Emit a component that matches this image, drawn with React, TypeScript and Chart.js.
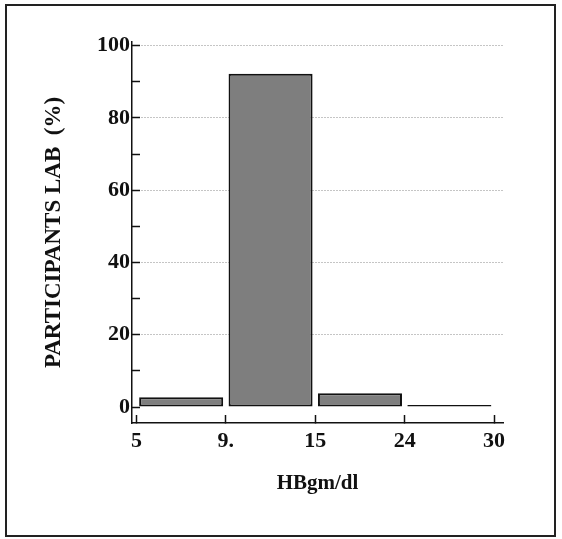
import React, { useEffect, useRef } from 'react';
import { Chart, registerables } from 'chart.js';

Chart.register(...registerables);

// HB bins (gm/dl) and share of participants (%)
const binLabels = ['5-9', '9-15', '15-24', '24-30'];
const participantsPct = [2.7, 92.2, 3.8, 0.6];
const edgeTickLabels = ['5', '9.', '15', '24', '30'];
const yTickValues = [0, 10, 20, 30, 40, 50, 60, 70, 80, 90, 100];
const yLabelStep = 20;

const FONT = '"Liberation Serif", "Times New Roman", serif';
const INK = '#111';

export default function App() {
  const ref = useRef<HTMLCanvasElement>(null);

  useEffect(() => {
    const canvas = ref.current;
    if (!canvas) return;
    const chart = new Chart(canvas, {
      type: 'bar',
      data: {
        labels: binLabels,
        datasets: [
          {
            label: 'Participants',
            data: participantsPct.map((v, i) => ({ x: i + 0.5, y: v })),
            backgroundColor: '#7e7e7e',
            borderColor: INK,
            borderWidth: 2,
            borderSkipped: false,
            barPercentage: 0.94,
            categoryPercentage: 1,
          },
        ],
      },
      options: {
        responsive: false,
        animation: false,
        layout: { padding: { left: 30, right: 59, top: 42, bottom: 30 } },
        plugins: { legend: { display: false }, tooltip: { enabled: false } },
        scales: {
          x: {
            type: 'linear',
            offset: false,
            min: -0.05,
            max: 4.1,
            afterBuildTicks: (s: any) => {
              s.ticks = edgeTickLabels.map((_, i) => ({ value: i }));
            },
            afterFit: (s: any) => {
              s.height = 539 - 423 - 30;
            },
            ticks: {
              autoSkip: false,
              maxRotation: 0,
              padding: 13,
              color: INK,
              font: { family: FONT, size: 22, weight: 'bold' },
              callback: (_v: any, i: number) => edgeTickLabels[i] ?? '',
            },
            grid: {
              offset: false,
              drawOnChartArea: false,
              drawTicks: true,
              tickLength: -8,
              tickColor: INK,
              tickWidth: 1.5,
              tickBorderDash: [],
            },
            border: { display: true, color: INK, width: 1.5 },
            title: {
              display: true,
              text: 'HBgm/dl',
              color: INK,
              font: { family: FONT, size: 21, weight: 'bold' },
              padding: { top: 0, bottom: 13 },
            },
          },
          y: {
            type: 'linear',
            min: -4.4,
            max: 101,
            afterBuildTicks: (s: any) => {
              s.ticks = yTickValues.map((v) => ({ value: v }));
            },
            afterFit: (s: any) => {
              s.width = 132 - 30;
            },
            ticks: {
              autoSkip: false,
              padding: 10,
              color: INK,
              font: { family: FONT, size: 22, weight: 'bold' },
              callback: (v: any) => (Number(v) % yLabelStep === 0 ? String(v) : ''),
            },
            grid: {
              drawOnChartArea: true,
              drawTicks: true,
              tickLength: -8,
              tickColor: INK,
              tickWidth: 1.5,
              tickBorderDash: [],
              lineWidth: 1,
              color: (c: any) =>
                c.tick && c.tick.value % yLabelStep === 0 && c.tick.value !== 0
                  ? '#8a8a8a'
                  : 'rgba(0,0,0,0)',
            },
            border: { display: true, color: INK, width: 1.5, dash: [1, 2] },
            title: {
              display: true,
              text: 'PARTICIPANTS LAB  (%)',
              color: INK,
              font: { family: FONT, size: 23, weight: 'bold' },
              padding: { top: 10, bottom: 0 },
            },
          },
        },
      },
    } as any);
    return () => chart.destroy();
  }, []);

  return (
    <div style={{ position: 'fixed', left: 0, top: 0, width: 562, height: 539, background: '#fff' }}>
      <div
        style={{
          position: 'absolute',
          left: 5,
          top: 4,
          width: 551,
          height: 533,
          border: '2px solid #222',
          boxSizing: 'border-box',
        }}
      />
      <canvas
        ref={ref}
        width={562}
        height={539}
        style={{ position: 'absolute', left: 0, top: 0, width: 562, height: 539 }}
      />
    </div>
  );
}
